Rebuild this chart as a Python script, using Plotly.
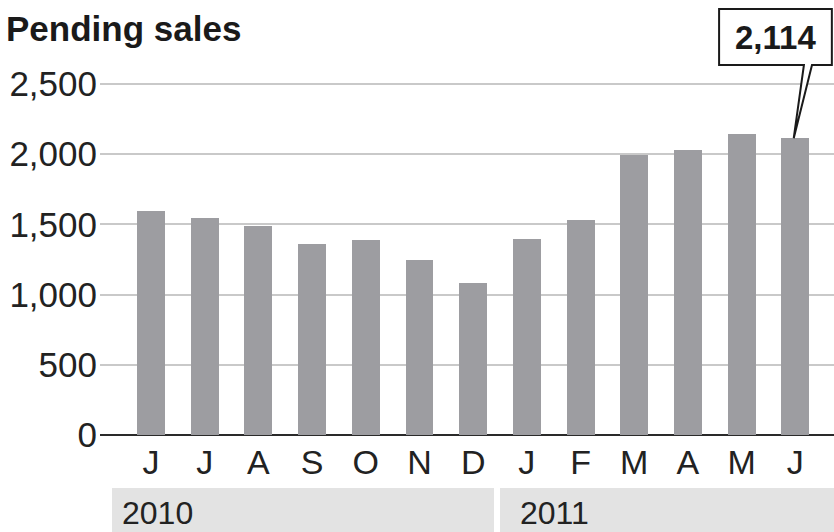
import plotly.graph_objects as go

months = ["J", "J", "A", "S", "O", "N", "D", "J", "F", "M", "A", "M", "J"]
values = [1595, 1545, 1489, 1360, 1389, 1246, 1083, 1396, 1531, 1994, 2030, 2144, 2114]
years = ["2010", "2011"]
y_ticks = [0, 500, 1000, 1500, 2000, 2500]
highlight_label = "2,114"

FONT = "Liberation Sans, Arial, sans-serif"
TXT = "#222222"

x_idx = list(range(len(months)))

fig = go.Figure()
fig.add_trace(go.Bar(
    x=x_idx, y=values, width=0.52,
    marker=dict(color="#9d9da1", line=dict(width=0)),
    hoverinfo="skip",
))

W, H = 834, 532
L, B = 100, 97
pw, ph = W - L, H - B

def px(p):
    return (p - L) / pw

def py(p):
    return (ph - p) / ph

shapes = []
# year bands
shapes.append(dict(type="rect", xref="paper", yref="paper", x0=px(112), x1=px(494),
                   y0=py(532), y1=py(488), fillcolor="#e3e3e3", line=dict(width=0), layer="below"))
shapes.append(dict(type="rect", xref="paper", yref="paper", x0=px(500), x1=1.0,
                   y0=py(532), y1=py(488), fillcolor="#e3e3e3", line=dict(width=0), layer="below"))

# callout (box + wedge pointing to last bar)
last = len(values) - 1
tip_y = values[last]
bx0, bx1 = last - 1.42, last + 0.68
by0, by1 = 2635, 3034
w0, w1 = last + 0.16, last + 0.31
tip_x = last - 0.03
path = (f"M {bx0},{by1} L {bx1},{by1} L {bx1},{by0} L {w1},{by0} L {tip_x},{tip_y} "
        f"L {w0},{by0} L {bx0},{by0} Z")
shapes.append(dict(type="path", xref="x", yref="y", path=path,
                   fillcolor="white", line=dict(color="#1a1a1a", width=2)))

annotations = [
    dict(text="<b>Pending sales</b>", xref="paper", yref="paper", x=px(4), y=py(29),
         xanchor="left", yanchor="middle", showarrow=False,
         font=dict(family=FONT, size=35, color="#1a1a1a")),
    dict(text=years[0], xref="paper", yref="paper", x=px(120), y=py(513),
         xanchor="left", yanchor="middle", showarrow=False,
         font=dict(family=FONT, size=32, color=TXT)),
    dict(text=years[1], xref="paper", yref="paper", x=px(518), y=py(513),
         xanchor="left", yanchor="middle", showarrow=False,
         font=dict(family=FONT, size=32, color=TXT)),
    dict(text=f"<b>{highlight_label}</b>", xref="x", yref="y", x=(bx0 + bx1) / 2,
         y=(by0 + by1) / 2, xanchor="center", yanchor="middle", showarrow=False,
         font=dict(family=FONT, size=33, color="#1a1a1a")),
]

fig.update_layout(
    width=W, height=H,
    margin=dict(l=L, r=0, t=0, b=B, pad=0),
    paper_bgcolor="white", plot_bgcolor="white",
    showlegend=False,
    bargap=0,
    shapes=shapes,
    annotations=annotations,
    xaxis=dict(
        range=[-0.95, 12.72], tickvals=x_idx, ticktext=months,
        showgrid=False, zeroline=False, showline=False, ticks="",
        tickfont=dict(family=FONT, size=34, color=TXT),
        ticklabelstandoff=4,
        fixedrange=True,
    ),
    yaxis=dict(
        range=[0, 3098], tickvals=y_ticks,
        ticktext=[f"{v:,}" for v in y_ticks],
        showgrid=True, gridcolor="#c9c9c9", gridwidth=2,
        zeroline=True, zerolinecolor="#2a2a2a", zerolinewidth=2,
        showline=False, ticks="",
        tickfont=dict(family=FONT, size=35, color=TXT),
        ticklabelstandoff=2,
        fixedrange=True,
    ),
)

fig.write_html(
    "out.html",
    config={"displayModeBar": False},
    post_script="document.body.style.margin='0';document.body.style.padding='0';document.body.style.overflow='hidden';",
)
